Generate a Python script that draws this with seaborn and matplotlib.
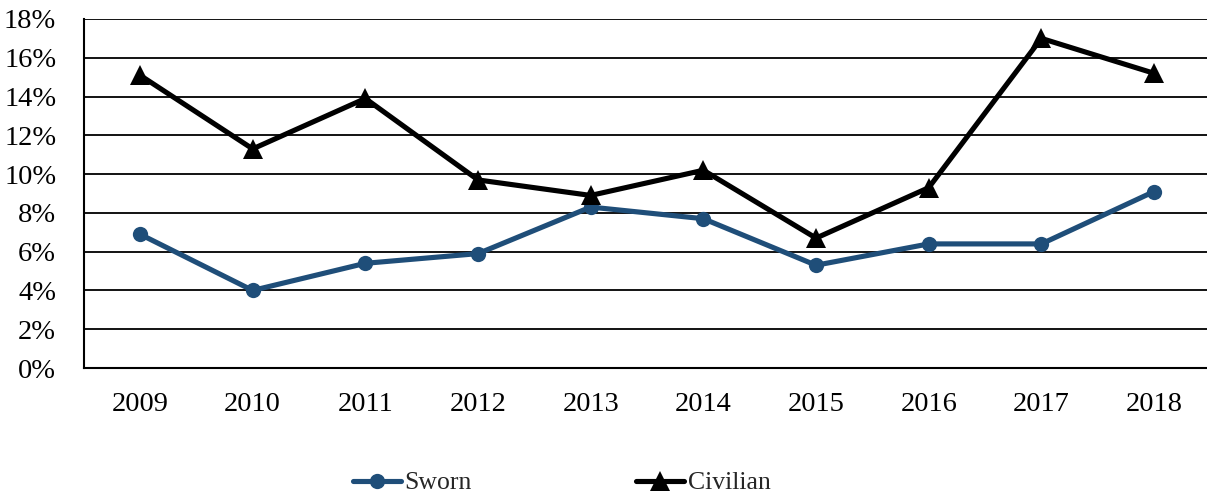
import matplotlib
matplotlib.use("Agg")
import matplotlib.pyplot as plt
import seaborn as sns
import pandas as pd
from matplotlib.ticker import FuncFormatter, MultipleLocator

years = ["2009", "2010", "2011", "2012", "2013", "2014", "2015", "2016", "2017", "2018"]
sworn = [6.9, 4.0, 5.4, 5.9, 8.3, 7.7, 5.3, 6.4, 6.4, 9.1]
civilian = [15.1, 11.3, 13.9, 9.7, 8.9, 10.2, 6.7, 9.3, 17.0, 15.2]

sns.set_theme(style="white")
plt.rcParams["font.family"] = ["Liberation Serif", "DejaVu Serif"]

df = pd.DataFrame({
    "pos": list(range(len(years))) * 2,
    "value": sworn + civilian,
    "series": ["Sworn"] * len(years) + ["Civilian"] * len(years),
})

fig = plt.figure(figsize=(12.07, 5.0), dpi=100)
ax = fig.add_axes([84 / 1207, 132 / 500, 1123 / 1207, 349 / 500])

sns.lineplot(data=df[df.series == "Sworn"], x="pos", y="value", ax=ax,
             color="#1F4E79", linewidth=3.7, marker="o", markersize=11,
             markeredgewidth=0, label="Sworn")
sns.lineplot(data=df[df.series == "Civilian"], x="pos", y="value", ax=ax,
             color="black", linewidth=3.7, marker="^", markersize=15,
             markeredgewidth=0, label="Civilian")

ax.set_ylim(0, 18)
ax.set_xlim(-0.497, 9.47)
ax.yaxis.set_major_locator(MultipleLocator(2))
ax.yaxis.set_major_formatter(FuncFormatter(lambda v, _: f"{v:.0f}%"))
ax.set_xticks(range(len(years)))
ax.set_xticklabels(years)
ax.grid(axis="y", color="black", linewidth=1.3)
ax.set_axisbelow(True)
ax.set_xlabel("")
ax.set_ylabel("")
for side in ["top", "right"]:
    ax.spines[side].set_visible(False)
for side in ["left", "bottom"]:
    ax.spines[side].set_color("black")
    ax.spines[side].set_linewidth(1.5)
ax.tick_params(axis="x", length=0, pad=17, labelsize=20.5, colors="black")
ax.tick_params(axis="y", length=0, pad=20, labelsize=20.5, colors="black")

ax.legend_.remove()
handles, labels = ax.get_legend_handles_labels()
fig.legend(handles, labels, loc="center", bbox_to_anchor=(562 / 1207, 1 - 483 / 500),
           ncol=2, frameon=False, fontsize=18.5, handlelength=1.85,
           handletextpad=0.15, columnspacing=6.4)

fig.savefig("out.png", dpi=100)
